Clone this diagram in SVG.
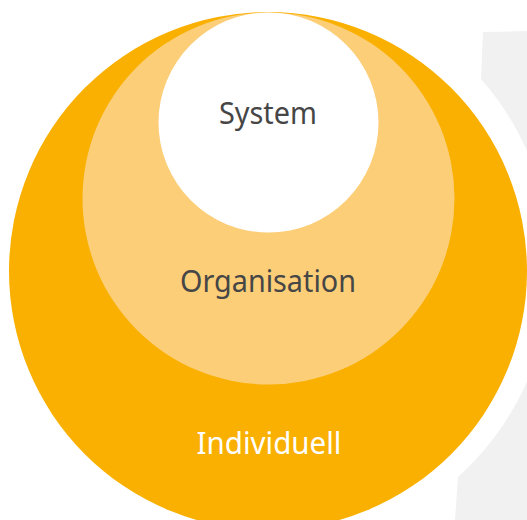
<svg xmlns="http://www.w3.org/2000/svg" width="527" height="520" viewBox="0 0 527 520">
<style>
.lbl{font-family:"Noto Sans","Open Sans","DejaVu Sans",sans-serif;font-size:30px;text-anchor:middle}
.dark{fill:#464646}
.light{fill:#ffffff}
</style>
<rect width="527" height="520" fill="#ffffff"/>
<g id="background-gear">
<path d="M483,32 L527,31 L527,520 L455,520 L458,477 A284,284 0 0 0 481,79 Z" fill="#f1f1f1"/>
</g>
<g id="individuell">
<circle cx="268" cy="271" r="259" fill="#f9b000"/>
<text class="lbl light" x="269" y="454" textLength="145" lengthAdjust="spacingAndGlyphs">Individuell</text>
</g>
<g id="organisation">
<circle cx="268.5" cy="198.5" r="186" fill="#fcce78"/>
<text class="lbl dark" x="268" y="292" textLength="176" lengthAdjust="spacingAndGlyphs">Organisation</text>
</g>
<g id="system">
<circle cx="268.5" cy="122.5" r="110" fill="#ffffff"/>
<text class="lbl dark" x="268" y="124" textLength="98" lengthAdjust="spacingAndGlyphs">System</text>
</g>
<g id="connectors"></g>
</svg>
